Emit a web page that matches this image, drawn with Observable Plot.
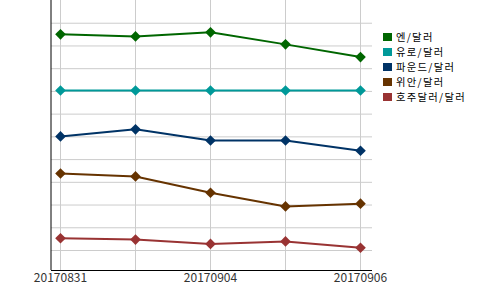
<!DOCTYPE html>
<html>
<head>
<meta charset="utf-8">
<script src="https://cdn.jsdelivr.net/npm/d3@7"></script>
<script src="https://cdn.jsdelivr.net/npm/@observablehq/plot@0.6"></script>
<style>
  html, body { margin: 0; padding: 0; background: #fff; }
  #wrap { position: relative; width: 500px; height: 290px; font-family: "Noto Sans CJK KR", "Noto Sans", sans-serif; }
  #legend { position: absolute; left: 383px; top: 29px; font-size: 10.3px; line-height: 15px; color: #000; }
  .item { height: 15px; line-height: 15px; display: flex; align-items: center; white-space: nowrap; }
  .item span { letter-spacing: 1.3px; }
  .sw { width: 9px; height: 8px; margin-right: 4px; flex: none; }
</style>
</head>
<body>
<div id="wrap"><div id="legend"></div></div>
<script>
const dates = ["20170831", "20170901", "20170904", "20170905", "20170906"];
const tickLabels = ["20170831", "20170904", "20170906"];
const seriesNames = ["엔/달러", "유로/달러", "파운드/달러", "위안/달러", "호주달러/달러"];
const seriesColors = ["#006600", "#009999", "#003366", "#663300", "#993333"];
// values in gridline units
const yen   = [10.51, 10.42, 10.60, 10.07, 9.51];
const euro  = [8.04, 8.04, 8.04, 8.04, 8.04];
const pound = [6.02, 6.33, 5.84, 5.84, 5.39];
const yuan  = [4.39, 4.26, 3.54, 2.94, 3.06];
const aud   = [1.54, 1.48, 1.29, 1.40, 1.12];
const gridTicks = [1, 2, 3, 4, 5, 6, 7, 8, 9, 10, 11];

const allValues = [yen, euro, pound, yuan, aud];
const data = [];
allValues.forEach((vals, i) => vals.forEach((v, j) => data.push({series: seriesNames[i], date: dates[j], value: v})));

const chart = Plot.plot({
  width: 500,
  height: 290,
  marginTop: 0,
  marginBottom: 20,
  marginLeft: 51,
  marginRight: 128,
  style: {fontFamily: "'Noto Sans CJK KR', 'Noto Sans', sans-serif", fontSize: "12px", background: "#fff"},
  x: {type: "point", domain: dates, insetLeft: 9, insetRight: 12, padding: 0},
  y: {domain: [0.12, 12.0], axis: null},
  color: {domain: seriesNames, range: seriesColors},
  marks: [
    Plot.gridY(gridTicks, {stroke: "#cccccc", strokeOpacity: 1, strokeWidth: 1}),
    Plot.gridX(dates, {stroke: "#cccccc", strokeOpacity: 1, strokeWidth: 1}),
    Plot.ruleY([0.12], {stroke: "#000", strokeWidth: 1}),
    Plot.axisX(tickLabels, {tickSize: 0, tickPadding: 3, label: null, fill: "#333", fontSize: 12}),
    Plot.line(data, {x: "date", y: "value", stroke: "series", strokeWidth: 2}),
    Plot.dot(data, {x: "date", y: "value", fill: "series", symbol: "diamond2", r: 4.8, stroke: "none"})
  ]
});

// left axis line
const svg = d3.select(chart);
svg.append("line").attr("x1", 51).attr("x2", 51).attr("y1", 0).attr("y2", 270).attr("stroke", "#000").attr("stroke-width", 1);

document.getElementById("wrap").prepend(chart);

const legend = d3.select("#legend");
seriesNames.forEach((name, i) => {
  const it = legend.append("div").attr("class", "item");
  it.append("div").attr("class", "sw").style("background", seriesColors[i]);
  it.append("span").text(name);
});
</script>
</body>
</html>
